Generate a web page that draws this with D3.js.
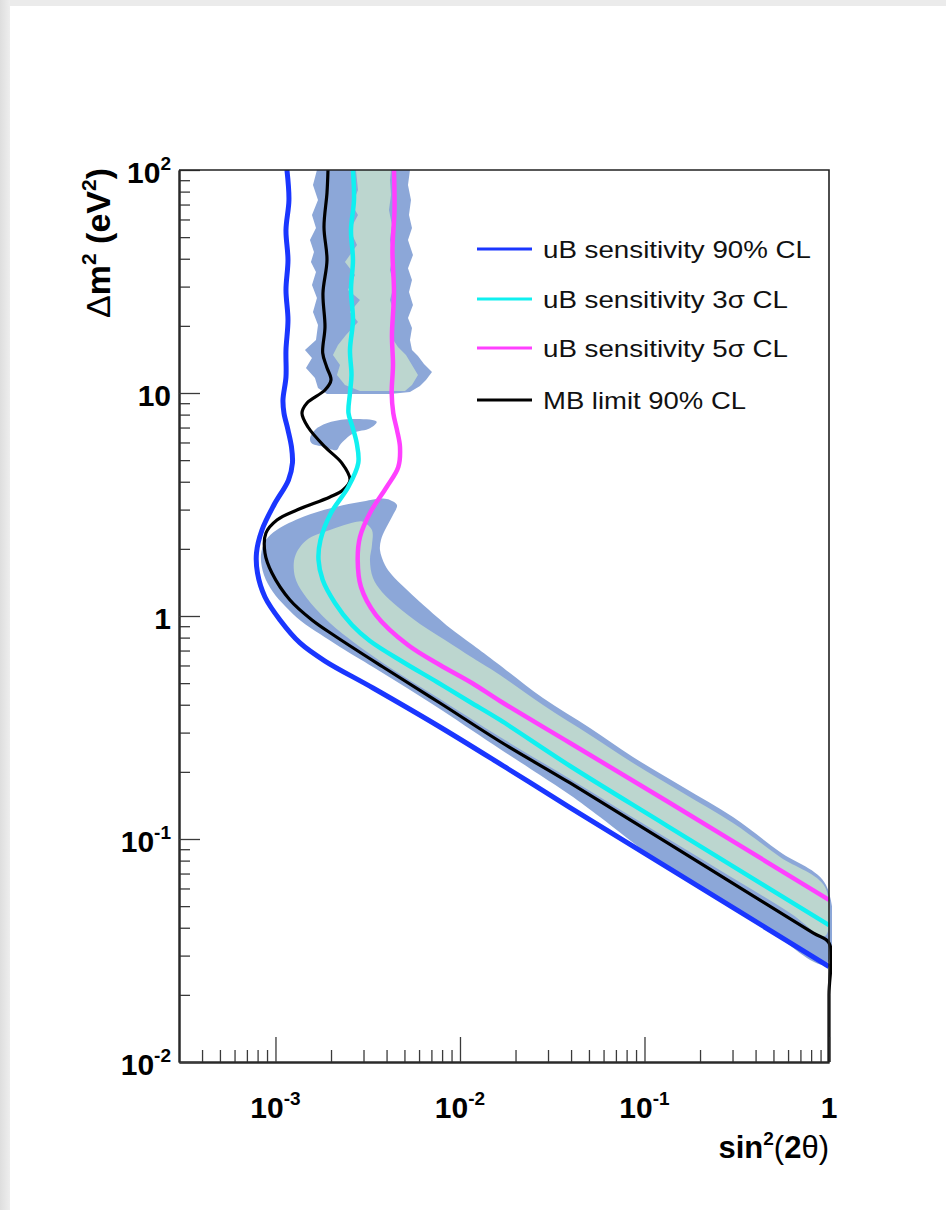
<!DOCTYPE html>
<html><head><meta charset="utf-8">
<script src="https://cdn.jsdelivr.net/npm/d3@7/dist/d3.min.js"></script>
<style>html,body{margin:0;padding:0;background:#fff;overflow:hidden}svg{display:block}</style>
</head><body><svg id="c" width="946" height="1210"></svg>
<script>
// ---------- data (sin^2(2θ), Δm^2 [eV^2]) ----------
const xDomain = [3e-4, 1];
const yDomain = [1e-2, 1e2];
const xTickValues = [1e-3, 1e-2, 1e-1, 1];
const xTickLabels = [["10","-3"],["10","-2"],["10","-1"],["1",""]];
const yTickValues = [1e-2, 1e-1, 1, 10, 100];
const yTickLabels = [["10","-2"],["10","-1"],["1",""],["10",""],["10","2"]];

const seriesNames = ["uB sensitivity 90% CL","uB sensitivity 3σ CL","uB sensitivity 5σ CL","MB limit 90% CL"];
const seriesColors = ["#1a36ff","#10f0f0","#ff40ff","#000000"];

const blue90 = [[1.154e-3,100],[1.183e-3,73.4],[1.140e-3,53.8],[1.169e-3,39.5],[1.140e-3,28.97],[1.169e-3,21.25],[1.140e-3,15.59],[1.140e-3,11.8],[1.098e-3,9.30],[1.112e-3,8.13],[1.169e-3,6.83],[1.221e-3,5.73],[1.236e-3,4.86],[1.176e-3,4.07],[9.81e-4,3.146],[8.45e-4,2.43],[7.89e-4,1.917],[7.99e-4,1.559],[8.77e-4,1.217],[1.058e-3,0.960],[1.358e-3,0.757],[1.855e-3,0.628],[3.377e-3,0.4755],[7.79e-3,0.3179],[0.0179,0.2082],[0.0395,0.1384],[0.1319,0.0749],[1.0,0.0268]];

const cyan3s = [[2.630e-3,100],[2.664e-3,73.4],[2.566e-3,53.8],[2.630e-3,39.5],[2.566e-3,28.97],[2.630e-3,21.25],[2.534e-3,15.59],[2.582e-3,12.04],[2.534e-3,10.0],[2.487e-3,8.13],[2.614e-3,7.04],[2.755e-3,5.97],[2.811e-3,4.86],[2.481e-3,3.788],[1.999e-3,2.897],[1.753e-3,2.192],[1.711e-3,1.783],[1.803e-3,1.450],[2.101e-3,1.144],[2.598e-3,0.911],[3.252e-3,0.7725],[4.911e-3,0.6218],[7.504e-3,0.5058],[1.133e-2,0.4115],[1.647e-2,0.3418],[0.0395,0.2125],[0.1319,0.1149],[1.0,0.0411]];

const magenta5s = [[4.388e-3,100],[4.416e-3,66.2],[4.306e-3,43.8],[4.388e-3,28.08],[4.279e-3,18.2],[4.334e-3,13.35],[4.264e-3,10.0],[4.350e-3,8.13],[4.554e-3,6.83],[4.729e-3,5.73],[4.630e-3,4.658],[4.006e-3,3.788],[3.252e-3,2.897],[2.871e-3,2.261],[2.790e-3,1.783],[2.907e-3,1.349],[3.505e-3,1.010],[5.226e-3,0.741],[7.79e-3,0.603],[1.161e-2,0.5006],[1.647e-2,0.4157],[0.0395,0.2695],[0.1319,0.1481],[1.0,0.0533]];

const mbLimit90 = [[1.926e-3,100],[1.902e-3,78.9],[1.832e-3,55.5],[1.902e-3,39.5],[1.809e-3,28.08],[1.855e-3,19.77],[1.803e-3,15.11],[1.895e-3,13.08],[1.999e-3,11.44],[1.855e-3,10.31],[1.482e-3,9.02],[1.392e-3,8.13],[1.500e-3,7.04],[1.855e-3,5.73],[2.285e-3,4.86],[2.534e-3,4.07],[2.322e-3,3.673],[1.974e-3,3.417],[1.307e-3,2.987],[1.019e-3,2.695],[8.88e-4,2.356],[8.77e-4,1.917],[9.57e-4,1.559],[1.198e-3,1.180],[1.577e-3,0.960],[2.101e-3,0.8135],[3.825e-3,0.5905],[7.79e-3,0.4073],[1.647e-2,0.2737],[0.0395,0.1783],[0.1319,0.0965],[0.819,0.0379],[1.0,0.0342],[1.0,0.02],[1.0,0.01]];

// MB allowed regions: 99% (outer) and 90% (inner)
const mb99Top = [[1.678e-3,100],[1.597e-3,85.7],[1.700e-3,73.4],[1.577e-3,62.9],[1.658e-3,54.9],[1.538e-3,48.55],[1.617e-3,42.9],[1.557e-3,38.7],[1.658e-3,34.9],[1.577e-3,30.5],[1.678e-3,26.7],[1.597e-3,23.1],[1.700e-3,20.18],[1.658e-3,17.29],[1.445e-3,15.59],[1.577e-3,14.35],[1.463e-3,12.94],[1.637e-3,11.68],[1.700e-3,10.53],[1.902e-3,9.89],[4.174e-3,9.89],[5.358e-3,10.10],[6.070e-3,10.75],[6.542e-3,11.44],[7.051e-3,12.42],[6.381e-3,13.49],[5.920e-3,14.65],[5.494e-3,15.59],[5.358e-3,17.29],[5.494e-3,19.56],[5.226e-3,21.69],[5.562e-3,24.8],[5.292e-3,28.38],[5.494e-3,32.1],[5.226e-3,36.3],[5.562e-3,41.6],[5.226e-3,48.55],[5.494e-3,54.9],[5.292e-3,62.9],[5.426e-3,73.4],[5.226e-3,85.7],[5.358e-3,100]];
const mb99Island = [[3.536e-3,7.435],[2.431e-3,7.62],[1.895e-3,7.31],[1.637e-3,6.83],[1.538e-3,6.265],[1.571e-3,5.95],[1.816e-3,5.74],[2.146e-3,5.55],[2.237e-3,5.85],[2.640e-3,6.60],[3.252e-3,6.945]];
const mb99Main = [[4.555e-3,3.146],[4.174e-3,3.313],[3.825e-3,3.365],[2.871e-3,3.245],[2.146e-3,3.091],[1.415e-3,2.788],[1.015e-3,2.430],[8.88e-4,2.192],[8.345e-4,1.877],[8.663e-4,1.527],[9.692e-4,1.281],[1.126e-3,1.109],[1.375e-3,0.950],[1.743e-3,0.830],[2.237e-3,0.726],[3.377e-3,0.5905],[5.161e-3,0.4755],[7.79e-3,0.3828],[1.176e-2,0.3050],[1.647e-2,0.2533],[2.714e-2,0.1936],[0.0395,0.1575],[5.740e-2,0.1255],[0.1071,0.0848],[0.1999,0.0615],[0.4227,0.0420],[0.9633,0.0275],[0.9633,0.0622],[0.5428,0.0874],[0.3017,0.1255],[0.1617,0.1711],[0.0866,0.2332],[5.065e-2,0.3147],[2.818e-2,0.4289],[1.586e-2,0.6155],[1.176e-2,0.741],[8.827e-3,0.8835],[7.505e-3,0.9897],[6.070e-3,1.155],[5.034e-3,1.335],[4.280e-3,1.527],[3.922e-3,1.693],[3.685e-3,1.977],[3.731e-3,2.192],[3.922e-3,2.430],[4.333e-3,2.837]];
const mb90Top = [[2.731e-3,100],[2.800e-3,81.35],[2.598e-3,69.7],[2.800e-3,62.9],[2.534e-3,53.8],[2.765e-3,46.1],[2.380e-3,38.7],[2.697e-3,33.8],[2.471e-3,28.97],[2.871e-3,26.12],[2.534e-3,23.1],[2.800e-3,20.8],[2.410e-3,18.2],[2.182e-3,16.42],[2.049e-3,14.8],[2.237e-3,13.35],[2.154e-3,12.05],[2.380e-3,10.86],[2.871e-3,10.2],[5.034e-3,10.2],[5.494e-3,10.86],[5.920e-3,12.05],[5.494e-3,13.35],[5.097e-3,14.8],[4.612e-3,16.08],[4.280e-3,17.65],[4.226e-3,20.18],[4.443e-3,22.4],[4.174e-3,26.12],[4.388e-3,30.5],[4.174e-3,35.6],[4.333e-3,41.6],[4.174e-3,48.55],[4.280e-3,56.7],[4.122e-3,66.2],[4.226e-3,77.3],[4.174e-3,90.2],[4.226e-3,100]];
const mb90Main = [[2.755e-3,2.648],[1.974e-3,2.430],[1.476e-3,2.192],[1.275e-3,1.845],[1.275e-3,1.500],[1.415e-3,1.264],[1.743e-3,1.028],[2.182e-3,0.8653],[3.825e-3,0.6155],[7.79e-3,0.4244],[1.647e-2,0.2867],[0.0395,0.1858],[0.1319,0.1010],[0.6147,0.0466],[0.9513,0.0367],[0.9513,0.0609],[0.5428,0.0831],[0.3017,0.1179],[0.1617,0.1608],[0.0866,0.2192],[5.065e-2,0.2927],[2.818e-2,0.3990],[1.586e-2,0.5553],[1.176e-2,0.6480],[8.293e-3,0.7806],[6.070e-3,0.921],[4.612e-3,1.097],[3.778e-3,1.281],[3.377e-3,1.480],[3.252e-3,1.783],[3.334e-3,2.081],[3.334e-3,2.430],[2.980e-3,2.648]];

// ---------- drawing ----------
const W = 946, H = 1210;
const FONT = "'Liberation Sans', Arial, Helvetica, sans-serif";
const plot = {left:179, right:829, top:170, bottom:1062};
const svg = d3.select("#c");

// page background
const defs = svg.append("defs");
const grad = defs.append("linearGradient").attr("id","lg").attr("x1","0").attr("x2","1").attr("y1","0").attr("y2","0");
grad.append("stop").attr("offset","0").attr("stop-color","#dedede");
grad.append("stop").attr("offset","1").attr("stop-color","#eeeeee");
svg.append("rect").attr("width",W).attr("height",H).attr("fill","#ebebeb");
svg.append("rect").attr("x",0).attr("y",0).attr("width",10).attr("height",H).attr("fill","url(#lg)");
svg.append("rect").attr("x",10).attr("y",6).attr("width",W-10).attr("height",H-6).attr("fill","#ffffff");

const x = d3.scaleLog().domain(xDomain).range([plot.left, plot.right]);
const y = d3.scaleLog().domain(yDomain).range([plot.bottom, plot.top]);

defs.append("clipPath").attr("id","clip").append("rect")
  .attr("x",plot.left).attr("y",plot.top).attr("width",plot.right-plot.left+3).attr("height",plot.bottom-plot.top);

const g = svg.append("g").attr("clip-path","url(#clip)");

const areaLine = (curve) => d3.line().x(d=>x(d[0])).y(d=>y(d[1])).curve(curve);
const bandColor99 = "#8ca7d8", bandColor90 = "#bcd6cf";
g.append("path").attr("d", areaLine(d3.curveLinearClosed)(mb99Top)).attr("fill",bandColor99);
g.append("path").attr("d", areaLine(d3.curveCatmullRomClosed.alpha(0.5))(mb99Island)).attr("fill",bandColor99);
g.append("path").attr("d", areaLine(d3.curveCatmullRomClosed.alpha(0.5))(mb99Main)).attr("fill",bandColor99);
g.append("path").attr("d", areaLine(d3.curveLinearClosed)(mb90Top)).attr("fill",bandColor90);
g.append("path").attr("d", areaLine(d3.curveCatmullRomClosed.alpha(0.5))(mb90Main)).attr("fill",bandColor90);

const lineGen = d3.line().x(d=>x(d[0])).y(d=>y(d[1])).curve(d3.curveCatmullRom.alpha(0.5));
const curves = [
  {data: blue90, color: seriesColors[0], w: 5},
  {data: mbLimit90, color: seriesColors[3], w: 3.2},
  {data: cyan3s, color: seriesColors[1], w: 4.5},
  {data: magenta5s, color: seriesColors[2], w: 4.5}
];
curves.forEach(c => {
  g.append("path").attr("d", lineGen(c.data)).attr("fill","none")
   .attr("stroke", c.color).attr("stroke-width", c.w).attr("stroke-linejoin","round");
});

// axes
const minorX = x.ticks().filter(v => v > xDomain[0]*1.001 && !xTickValues.some(t => Math.abs(Math.log10(v)-Math.log10(t))<1e-6));
const minorY = y.ticks().filter(v => !yTickValues.some(t => Math.abs(Math.log10(v)-Math.log10(t))<1e-6));

function styleAxis(sel){
  sel.selectAll(".domain").attr("stroke","#2a2a2a").attr("stroke-width",2);
  sel.selectAll(".tick line").attr("stroke","#3a3a3a").attr("stroke-width",1.3);
  sel.selectAll(".tick text").remove();
}
const gxMinor = svg.append("g").attr("transform",`translate(0,${plot.bottom})`)
  .call(d3.axisBottom(x).tickValues(minorX).tickSizeInner(-12).tickSizeOuter(0).tickFormat(""));
styleAxis(gxMinor);
const gxMajor = svg.append("g").attr("transform",`translate(0,${plot.bottom})`)
  .call(d3.axisBottom(x).tickValues(xTickValues).tickSizeInner(-25).tickSizeOuter(0).tickFormat(""));
styleAxis(gxMajor);
const gyMinor = svg.append("g").attr("transform",`translate(${plot.left},0)`)
  .call(d3.axisLeft(y).tickValues(minorY).tickSizeInner(-11).tickSizeOuter(0).tickFormat(""));
styleAxis(gyMinor);
const gyMajor = svg.append("g").attr("transform",`translate(${plot.left},0)`)
  .call(d3.axisLeft(y).tickValues(yTickValues).tickSizeInner(-21).tickSizeOuter(0).tickFormat(""));
styleAxis(gyMajor);

// top and right frame
svg.append("path").attr("d",`M${plot.left},${plot.top}H${plot.right}V${plot.bottom}`)
  .attr("fill","none").attr("stroke","#222").attr("stroke-width",1.6);

// tick labels
function supLabel(sel, base, sup, fs, sfs){
  sel.append("tspan").text(base);
  if (sup) sel.append("tspan").attr("dy", -fs*0.42).attr("font-size", sfs).text(sup);
}
xTickValues.forEach((v,i) => {
  const t = svg.append("text").attr("x", x(v)).attr("y", 1118)
    .attr("text-anchor","middle").attr("font-family",FONT).attr("font-weight","bold").attr("font-size",30);
  supLabel(t, xTickLabels[i][0], xTickLabels[i][1], 30, 19);
});
yTickValues.forEach((v,i) => {
  const t = svg.append("text").attr("x", 171).attr("y", y(v)+13)
    .attr("text-anchor","end").attr("font-family",FONT).attr("font-weight","bold").attr("font-size",30);
  supLabel(t, yTickLabels[i][0], yTickLabels[i][1], 30, 19);
});

// axis titles
const xt = svg.append("text").attr("x", plot.right).attr("y", 1158).attr("text-anchor","end")
  .attr("font-family",FONT).attr("font-size",31).attr("font-weight","bold");
xt.append("tspan").text("sin");
xt.append("tspan").attr("dy",-13).attr("font-size",19).text("2");
xt.append("tspan").attr("dy",13).attr("font-weight","normal").text("(");
xt.append("tspan").text("2");
xt.append("tspan").attr("font-weight","normal").text("θ)");

const yt = svg.append("text").attr("transform",`translate(110,168) rotate(-90)`).attr("text-anchor","end")
  .attr("font-family",FONT).attr("font-size",34).attr("font-weight","bold");
yt.append("tspan").attr("font-weight","normal").text("Δ");
yt.append("tspan").text("m");
yt.append("tspan").attr("dy",-14).attr("font-size",21).text("2");
yt.append("tspan").attr("dy",14).text(" (eV");
yt.append("tspan").attr("dy",-14).attr("font-size",21).text("2");
yt.append("tspan").attr("dy",14).text(")");

// legend
const legY = [249, 299, 348, 400];
const legWidths = [268, 245, 245, 203];
const legColors = [seriesColors[0], seriesColors[1], seriesColors[2], seriesColors[3]];
seriesNames.forEach((name,i) => {
  svg.append("line").attr("x1",477).attr("x2",532).attr("y1",legY[i]).attr("y2",legY[i])
    .attr("stroke",legColors[i]).attr("stroke-width",3);
  svg.append("text").attr("x",543).attr("y",legY[i]+8.5)
    .attr("font-family",FONT).attr("font-size",24).attr("fill","#111")
    .attr("textLength", legWidths[i]).attr("lengthAdjust","spacingAndGlyphs")
    .text(name);
});
</script></body></html>
